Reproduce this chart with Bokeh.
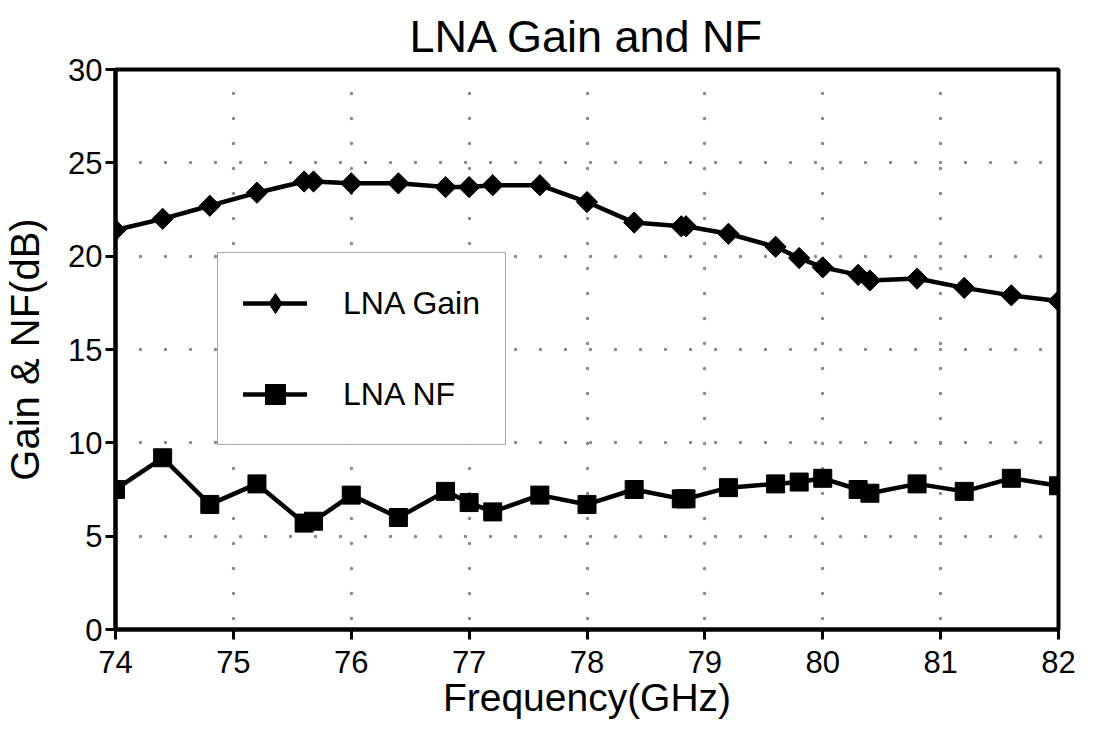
import numpy as np
from bokeh.plotting import figure
from bokeh.models import Range1d, FixedTicker, Legend, LegendItem
from bokeh.embed import file_html
from bokeh.resources import INLINE

# ---- data ----
freq = [74.0, 74.4, 74.8, 75.2, 75.6, 75.68, 76.0, 76.4, 76.8, 77.0, 77.2, 77.6,
        78.0, 78.4, 78.8, 78.84, 79.2, 79.6, 79.8, 80.0, 80.3, 80.4, 80.8, 81.2,
        81.6, 82.0]
gain = [21.4, 22.0, 22.7, 23.4, 24.0, 24.0, 23.9, 23.9, 23.7, 23.7, 23.8, 23.8,
        22.9, 21.8, 21.6, 21.6, 21.2, 20.5, 19.9, 19.4, 19.0, 18.7, 18.8, 18.3,
        17.9, 17.6]
nf = [7.5, 9.2, 6.7, 7.8, 5.7, 5.8, 7.2, 6.0, 7.4, 6.8, 6.3, 7.2,
      6.7, 7.5, 7.0, 7.0, 7.6, 7.8, 7.9, 8.1, 7.5, 7.3, 7.8, 7.4,
      8.1, 7.7]
x_ticks = [74, 75, 76, 77, 78, 79, 80, 81, 82]
y_ticks = [0, 5, 10, 15, 20, 25, 30]
series_names = ["LNA Gain", "LNA NF"]

FONT = "Liberation Sans"

p = figure(width=1078, height=725, x_range=Range1d(74, 82), y_range=Range1d(0, 30),
           output_backend="svg", toolbar_location=None,
           min_border_left=113, min_border_right=20, min_border_top=68,
           min_border_bottom=96, title="LNA Gain and NF")

p.title.text_font = FONT
p.title.text_font_size = "45px"
p.title.text_font_style = "normal"
p.title.align = "center"
p.title.text_color = "black"
p.title.standoff = 16

p.outline_line_color = "black"
p.outline_line_width = 4

for ax in (p.xaxis, p.yaxis):
    ax.axis_line_width = 4
    ax.axis_line_color = "black"
    ax.major_tick_line_width = 3
    ax.major_tick_line_color = "black"
    ax.major_tick_out = 10
    ax.major_tick_in = 0
    ax.minor_tick_line_color = None
    ax.major_label_text_font = FONT
    ax.major_label_text_font_size = "31px"
    ax.major_label_text_color = "black"
    ax.axis_label_text_font = FONT
    ax.axis_label_text_font_style = "normal"
    ax.axis_label_text_color = "black"

p.xaxis.ticker = FixedTicker(ticks=x_ticks)
p.yaxis.ticker = FixedTicker(ticks=y_ticks)
p.xaxis.axis_label = "Frequency(GHz)"
p.yaxis.axis_label = "Gain & NF(dB)"
p.xaxis.axis_label_text_font_size = "39px"
p.yaxis.axis_label_text_font_size = "40px"
p.xaxis.major_label_standoff = 11
p.yaxis.major_label_standoff = 3
p.xaxis.axis_label_standoff = 0
p.yaxis.axis_label_standoff = 18

p.xgrid.ticker = FixedTicker(ticks=x_ticks[1:-1])
p.ygrid.ticker = FixedTicker(ticks=y_ticks[1:-1])
for g in (p.xgrid, p.ygrid):
    g.grid_line_color = "#8a8a8a"
    g.grid_line_width = 3.5
    g.grid_line_dash = "0 25"
    g.grid_line_cap = "round"
p.xgrid.grid_line_dash_offset = 14

gl = p.line(freq, gain, line_color="black", line_width=4.5, line_join="round", line_cap="round")
# diamond keys drawn at the data points; fully covered by the larger rotated squares
gk = p.scatter(freq, gain, marker="diamond", size=20, fill_color="black", line_color="black")
gm = p.scatter(freq, gain, marker="square", angle=np.pi / 4, size=15,
               fill_color="black", line_color="black")
nl = p.line(freq, nf, line_color="black", line_width=4.5, line_join="round", line_cap="round")
nm = p.scatter(freq, nf, marker="square", size=18, fill_color="black", line_color="black")

legend = Legend(items=[LegendItem(label=series_names[0], renderers=[gl, gk]),
                       LegendItem(label=series_names[1], renderers=[nl, nm])],
                location=(102, 184), padding=25, spacing=41, glyph_width=64,
                glyph_height=50, label_height=50, label_standoff=36, margin=0,
                label_text_font=FONT, label_text_font_size="32px",
                label_text_color="black",
                border_line_color="#555555", border_line_width=1,
                background_fill_color="white", background_fill_alpha=1)
p.add_layout(legend, "center")

open("out.html", "w").write(file_html(p, INLINE))
